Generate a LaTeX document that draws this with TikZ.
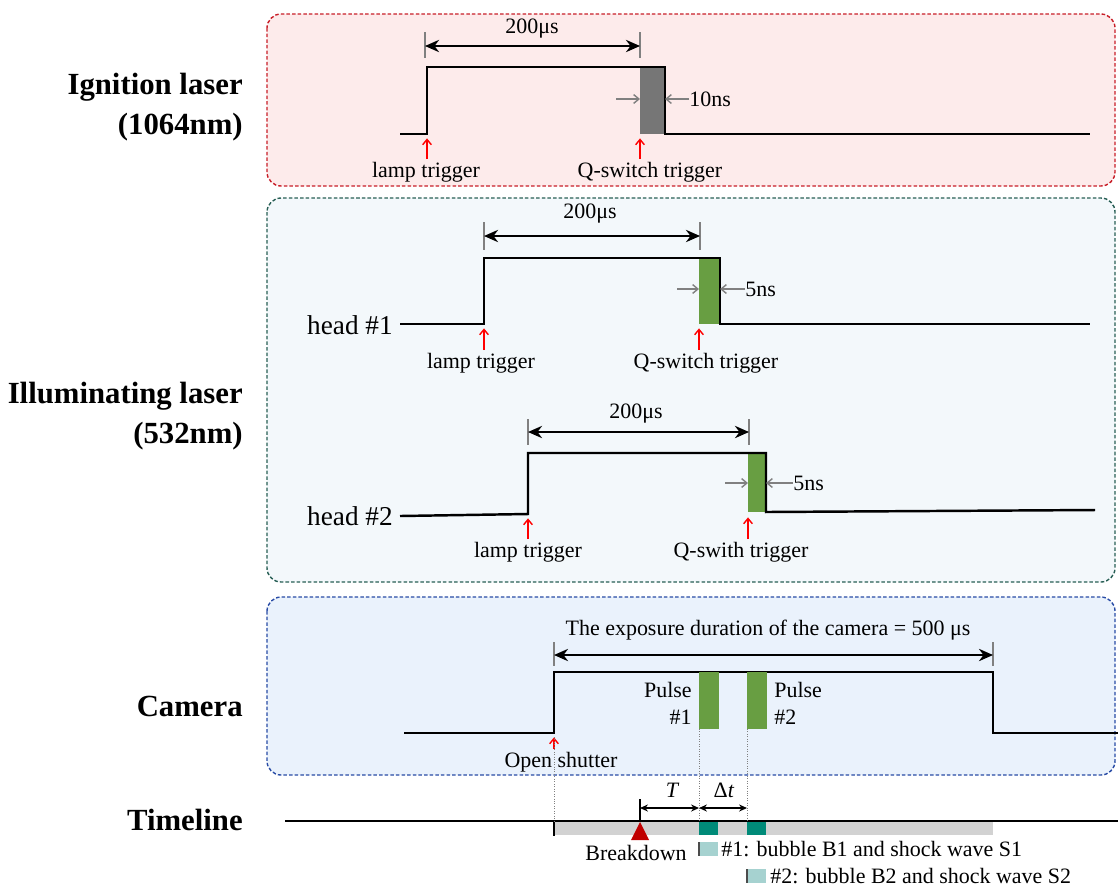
\documentclass[tikz,border=0pt]{standalone}
\usepackage{fontspec}
\setmainfont{Liberation Serif}
\usetikzlibrary{arrows.meta,positioning}

\definecolor{igfill}{RGB}{253,235,235}
\definecolor{igedge}{RGB}{200,30,40}
\definecolor{ilfill}{RGB}{243,248,251}
\definecolor{iledge}{RGB}{40,95,85}
\definecolor{cafill}{RGB}{234,242,252}
\definecolor{caedge}{RGB}{40,75,165}
\definecolor{pulsegreen}{RGB}{104,158,66}
\definecolor{qgray}{RGB}{118,118,118}
\definecolor{bubteal}{RGB}{0,138,120}
\definecolor{legteal}{RGB}{166,210,208}
\definecolor{bargray}{RGB}{210,210,210}
\definecolor{bdred}{RGB}{192,0,0}

\tikzset{
  panel/.style={rounded corners=8pt, dash pattern=on 2pt off 1.2pt, line width=0.8pt},
  sig/.style={line width=1.4pt},
  dimtick/.style={draw=gray, line width=0.9pt},
  dimarrow/.style={line width=1.1pt, {Stealth[length=8pt,width=7pt]}-{Stealth[length=8pt,width=7pt]}},
  smalldim/.style={line width=0.7pt, {Stealth[length=4.5pt,width=4pt]}-{Stealth[length=4.5pt,width=4pt]}},
  trig/.style={red, line width=0.8pt, -{Straight Barb[length=3pt,width=5pt]}},
  gaparrow/.style={gray, line width=0.8pt, -{Straight Barb[length=3pt,width=5pt]}},
  lbl/.style={font=\fontsize{12.5}{15.3}\selectfont, inner sep=0pt},
  hd/.style={font=\fontsize{15.5}{18}\selectfont, inner sep=0pt, anchor=east},
  ttl/.style={font=\fontsize{17.5}{22.7}\selectfont\bfseries, inner sep=0pt, align=right, anchor=east},
}

\begin{document}
\begin{tikzpicture}[x=0.02cm, y=-0.02cm]
  \useasboundingbox (0,0) rectangle (1118,887);

  % Panels
  \draw[panel, draw=igedge, fill=igfill] (267,14) rectangle (1115,186);
  \draw[panel, draw=iledge, fill=ilfill] (267,198) rectangle (1115,582);
  \draw[panel, draw=caedge, fill=cafill] (267,597) rectangle (1115,775);

  % Titles
  \node[ttl] (igTitle) at (243,107) {Ignition laser\\(1064nm)};
  \node[ttl] (ilTitle) at (243,416) {Illuminating laser\\(532nm)};
  \node[ttl] (caTitle) at (243,706) {Camera};
  \node[ttl] (tlTitle) at (243,820) {Timeline};

  % Ignition laser
  \coordinate (igA) at (400,134);
  \coordinate (igB) at (427,134);
  \coordinate (igC) at (427,67);
  \coordinate (igQ) at (640,134);
  \coordinate (igD) at (665,67);
  \coordinate (igE) at (665,134);
  \coordinate (igF) at (1090,134);
  \fill[qgray] (640,67) rectangle (igE);
  \draw[sig] (igA) -- (igB) -- (igC) -- (igD) -- (igE) -- (igF);
  \draw[dimtick] (425,32) -- (425,58);
  \draw[dimtick] (640,32) -- (640,58);
  \draw[dimarrow] (425,46) -- (640,46);
  \node[lbl] (igDur) at (532,29) {200μs};
  \node[lbl, anchor=west] (igNs) at (689,99) {10ns};
  \draw[gaparrow] (616,99) -- (640,99);
  \draw[gaparrow] (igNs.west) -- (665,99);
  \node[lbl] (igLamp) at (426,172) {lamp trigger};
  \node[lbl] (igQsw) at (650,172) {Q-switch trigger};
  \draw[trig, shorten <=1.5pt, shorten >=2.5pt] (igB |- igLamp.north) -- (igB);
  \draw[trig, shorten <=1.5pt, shorten >=2.5pt] (igQ |- igQsw.north) -- (igQ);

  % Illuminating laser, head 1
  \node[hd] (h1Name) at (393,325) {head \#1};
  \coordinate (h1A) at (400,324);
  \coordinate (h1B) at (484,324);
  \coordinate (h1C) at (484,258);
  \coordinate (h1Q) at (699,324);
  \coordinate (h1D) at (720,258);
  \coordinate (h1E) at (720,324);
  \coordinate (h1F) at (1090,324);
  \fill[pulsegreen] (699,258) rectangle (h1E);
  \draw[sig] (h1A) -- (h1B) -- (h1C) -- (h1D) -- (h1E) -- (h1F);
  \draw[dimtick] (484,222) -- (484,250);
  \draw[dimtick] (700,222) -- (700,250);
  \draw[dimarrow] (484,236) -- (700,236);
  \node[lbl] (h1Dur) at (590,214) {200μs};
  \node[lbl, anchor=west] (h1Ns) at (745,289) {5ns};
  \draw[gaparrow] (677,289) -- (699,289);
  \draw[gaparrow] (h1Ns.west) -- (720,289);
  \node[lbl] (h1Lamp) at (481,363) {lamp trigger};
  \node[lbl] (h1Qsw) at (706,363) {Q-switch trigger};
  \draw[trig, shorten <=1.5pt, shorten >=2.5pt] (h1B |- h1Lamp.north) -- (h1B);
  \draw[trig, shorten <=1.5pt, shorten >=2.5pt] (h1Q |- h1Qsw.north) -- (h1Q);

  % Illuminating laser, head 2
  \node[hd] (h2Name) at (393,516) {head \#2};
  \coordinate (h2A) at (400,516);
  \coordinate (h2B) at (528,514);
  \coordinate (h2C) at (528,453);
  \coordinate (h2Q) at (748,513);
  \coordinate (h2D) at (766,453);
  \coordinate (h2E) at (766,512);
  \coordinate (h2F) at (1095,510);
  \fill[pulsegreen] (748,453) rectangle (h2E);
  \draw[sig] (h2A) -- (h2B) -- (h2C) -- (h2D) -- (h2E) -- (h2F);
  \draw[dimtick] (528,419) -- (528,445);
  \draw[dimtick] (749,419) -- (749,445);
  \draw[dimarrow] (528,432) -- (749,432);
  \node[lbl] (h2Dur) at (636,414) {200μs};
  \node[lbl, anchor=west] (h2Ns) at (793,483) {5ns};
  \draw[gaparrow] (725,483) -- (748,483);
  \draw[gaparrow] (h2Ns.west) -- (766,483);
  \node[lbl] (h2Lamp) at (528,552) {lamp trigger};
  \node[lbl] (h2Qsw) at (741,552) {Q-swith trigger};
  \draw[trig, shorten <=1.5pt, shorten >=2.5pt] (h2B |- h2Lamp.north) -- (h2B);
  \draw[trig, shorten <=1.5pt, shorten >=2.5pt] (h2Q |- h2Qsw.north) -- (h2Q);

  % Camera
  \coordinate (caA) at (404,733);
  \coordinate (caB) at (554,733);
  \coordinate (caC) at (554,672);
  \coordinate (caD) at (993,672);
  \coordinate (caE) at (993,733);
  \coordinate (caF) at (1118,733);
  \draw[sig] (caA) -- (caB) -- (caC) -- (caD) -- (caE) -- (caF);
  \fill[pulsegreen] (699,672) rectangle (719,729);
  \fill[pulsegreen] (747,672) rectangle (767,729);
  \node[lbl, align=right, anchor=east] (p1Lbl) at (692,703) {Pulse\\\#1};
  \node[lbl, align=left, anchor=west] (p2Lbl) at (774,703) {Pulse\\\#2};
  \draw[dimtick] (554,642) -- (554,666);
  \draw[dimtick] (993,642) -- (993,666);
  \draw[dimarrow] (554,655) -- (993,655);
  \node[lbl] (expLbl) at (768,630) {The exposure duration of the camera = 500 μs};
  \node[lbl] (openLbl) at (561,762) {Open shutter};
  \draw[trig, shorten <=1.5pt, shorten >=2.5pt] (caB |- openLbl.north) -- (caB);

  % Timeline
  \draw[line width=1.2pt] (285,821) -- (1118,821);
  \fill[bargray] (554,822) rectangle (993,835);
  \fill[bubteal] (699,822) rectangle (718,835);
  \fill[bubteal] (747,822) rectangle (766,835);
  \draw[line width=1pt] (554,821) -- (554,836);
  \draw[densely dotted, gray] (554,737) -- (554,821);
  \draw[densely dotted, gray] (699,729) -- (699,821);
  \draw[densely dotted, gray] (747,729) -- (747,821);
  \coordinate (bdTop) at (640,799);
  \coordinate (bd) at (640,822);
  \draw[line width=0.9pt] (bdTop) -- (bd);
  \fill[bdred] (bd) -- (649,840) -- (631,840) -- cycle;
  \node[lbl] (bdLbl) at (636,853) {Breakdown};
  \coordinate (t1) at (699,808);
  \coordinate (t2) at (747,808);
  \draw[smalldim] (bd |- t1) -- (t1);
  \draw[smalldim] (t1) -- (t2);
  \node[lbl, font=\fontsize{12.5}{15}\selectfont\itshape] (tLbl) at (672,790) {T};
  \node[lbl] (dtLbl) at (724,790) {Δ\textit{t}};

  % Legend
  \fill[legteal] (699,842) rectangle (718,856);
  \draw[gray!60!black, line width=0.9pt] (699,842) -- (699,856);
  \node[lbl, anchor=west] (leg1) at (721,849) {\#1: bubble B1 and shock wave S1};
  \fill[legteal] (747,869) rectangle (766,883);
  \draw[gray!60!black, line width=0.9pt] (747,869) -- (747,883);
  \node[lbl, anchor=west] (leg2) at (770,876) {\#2: bubble B2 and shock wave S2};
\end{tikzpicture}
\end{document}
